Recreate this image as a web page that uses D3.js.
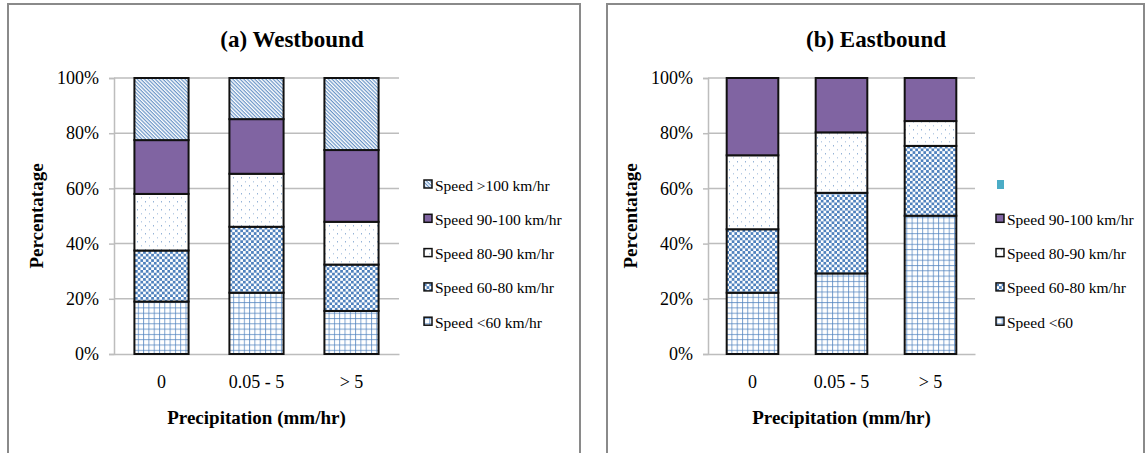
<!DOCTYPE html>
<html>
<head>
<meta charset="utf-8">
<script src="https://cdn.jsdelivr.net/npm/d3@7"></script>
<style>
  html, body { margin: 0; padding: 0; background: #fff; }
  svg { display: block; }
  text { font-family: "Liberation Serif", "Times New Roman", serif; fill: #000; }
</style>
</head>
<body>
<svg id="chart" width="1146" height="453"></svg>
<script>
// Precipitation classes on the x axis
const categories = ["0", "0.05 - 5", "> 5"];
const yTicks = [0, 20, 40, 60, 80, 100];

// Westbound: share of vehicles per speed class (%), bottom to top
const westNames = ["Speed <60 km/hr", "Speed 60-80 km/hr", "Speed 80-90 km/hr", "Speed 90-100 km/hr", "Speed >100 km/hr"];
const westLt60   = [19.0, 22.2, 15.6];
const west60_80  = [18.5, 23.9, 16.8];
const west80_90  = [20.5, 19.2, 15.5];
const west90_100 = [19.5, 19.8, 26.0];
const westGt100  = [22.5, 14.9, 26.1];

// Eastbound: share of vehicles per speed class (%), bottom to top
const eastNames = ["Speed <60", "Speed 60-80 km/hr", "Speed 80-90 km/hr", "Speed 90-100 km/hr", ""];
const eastLt60   = [22.2, 29.2, 50.1];
const east60_80  = [23.0, 29.2, 25.3];
const east80_90  = [26.8, 21.9, 9.0];
const east90_100 = [28.0, 19.7, 15.6];
const eastGt100  = [0, 0, 0];

const svg = d3.select("#chart");
const defs = svg.append("defs");
const blue = "#4F81BD";

// Fill patterns for the speed classes
function addPatterns(prefix) {
  // grid
  let p = defs.append("pattern").attr("id", prefix + "grid").attr("patternUnits", "userSpaceOnUse")
    .attr("width", 5.3).attr("height", 5.3);
  p.append("rect").attr("width", 5.3).attr("height", 5.3).attr("fill", "#fff");
  p.append("line").attr("x1", 0.5).attr("x2", 0.5).attr("y1", 0).attr("y2", 5.3).attr("stroke", blue).attr("stroke-width", 1).attr("stroke-opacity", 0.75);
  p.append("line").attr("y1", 0.5).attr("y2", 0.5).attr("x1", 0).attr("x2", 5.3).attr("stroke", blue).attr("stroke-width", 1).attr("stroke-opacity", 0.75);
  // checkerboard
  p = defs.append("pattern").attr("id", prefix + "check").attr("patternUnits", "userSpaceOnUse")
    .attr("width", 5.4).attr("height", 5.4);
  p.append("rect").attr("width", 5.4).attr("height", 5.4).attr("fill", "#fff");
  p.append("rect").attr("width", 2.7).attr("height", 2.7).attr("fill", blue);
  p.append("rect").attr("x", 2.7).attr("y", 2.7).attr("width", 2.7).attr("height", 2.7).attr("fill", blue);
  // sparse dots
  p = defs.append("pattern").attr("id", prefix + "dots").attr("patternUnits", "userSpaceOnUse")
    .attr("width", 8).attr("height", 8);
  p.append("rect").attr("width", 8).attr("height", 8).attr("fill", "#fff");
  p.append("rect").attr("x", 1).attr("y", 1).attr("width", 1).attr("height", 1.5).attr("fill", blue).attr("fill-opacity", 0.6);
  p.append("rect").attr("x", 5).attr("y", 5).attr("width", 1).attr("height", 1.5).attr("fill", blue).attr("fill-opacity", 0.4);
  // diagonal stripes, running down to the right
  p = defs.append("pattern").attr("id", prefix + "diag").attr("patternUnits", "userSpaceOnUse")
    .attr("width", 2.6).attr("height", 2.6).attr("patternTransform", "rotate(45)");
  p.append("rect").attr("width", 2.6).attr("height", 2.6).attr("fill", "#fff");
  p.append("rect").attr("width", 2.6).attr("height", 1.2).attr("fill", blue).attr("fill-opacity", 0.85);
}
addPatterns("p");
const fills = ["url(#pgrid)", "url(#pcheck)", "url(#pdots)", "#8064A2", "url(#pdiag)"];

function drawPanel(cfg) {
  const g = svg.append("g");
  // panel frame
  g.append("path")
    .attr("d", `M${cfg.frame[0]},460 V${cfg.frame[1]} H${cfg.frame[2]} V460`)
    .attr("fill", "none").attr("stroke", "#8a8a8a").attr("stroke-width", 2);

  const x = d3.scaleBand().domain(categories).range([cfg.x0, cfg.x1]).paddingInner(cfg.pad).paddingOuter(cfg.pad / 2);
  const y = d3.scaleLinear().domain([0, 100]).range([354, 78]);

  // gridlines
  g.append("g").selectAll("line").data(yTicks.filter(t => t > 0)).join("line")
    .attr("x1", cfg.x0).attr("x2", cfg.x1)
    .attr("y1", d => y(d)).attr("y2", d => y(d))
    .attr("stroke", "#bdbdbd").attr("stroke-width", 1.5);

  // y axis
  const ya = g.append("g").attr("transform", `translate(${cfg.x0},0)`)
    .call(d3.axisLeft(y).tickValues(yTicks).tickFormat(d => d + "%").tickSize(5).tickPadding(10));
  ya.select(".domain").attr("stroke", "#bdbdbd").attr("stroke-width", 1.5);
  ya.selectAll(".tick line").attr("stroke", "#bdbdbd").attr("stroke-width", 1.5);
  ya.selectAll(".tick text").attr("font-size", 18).attr("font-family", "Liberation Serif");

  // x axis
  const xa = g.append("g").attr("transform", "translate(0,354)")
    .call(d3.axisBottom(x).tickSize(0).tickPadding(21).tickSizeOuter(0));
  xa.select(".domain").attr("stroke", "#bdbdbd").attr("stroke-width", 1.5);
  xa.selectAll(".tick text").attr("font-size", 18).attr("font-family", "Liberation Serif");

  // stacked bars
  const rows = categories.map((c, i) => {
    const r = { cat: c };
    cfg.series.forEach((s, k) => { r["s" + k] = s[i]; });
    return r;
  });
  const stack = d3.stack().keys(cfg.series.map((s, k) => "s" + k))(rows);
  stack.forEach((layer, k) => {
    g.append("g").selectAll("rect").data(layer.filter(d => d[1] - d[0] > 0)).join("rect")
      .attr("x", d => x(d.data.cat))
      .attr("width", x.bandwidth())
      .attr("y", d => y(d[1]))
      .attr("height", d => y(d[0]) - y(d[1]))
      .attr("fill", fills[k])
      .attr("stroke", "#111").attr("stroke-width", 2);
  });

  // titles
  g.append("text").attr("x", cfg.titleX).attr("y", 47).attr("text-anchor", "middle")
    .attr("font-size", 23).attr("font-weight", "bold").text(cfg.title);
  g.append("text").attr("transform", `translate(${cfg.yLabelX},216) rotate(-90)`).attr("text-anchor", "middle")
    .attr("font-size", 19).attr("font-weight", "bold").text("Percentatage");
  g.append("text").attr("x", (cfg.x0 + cfg.x1) / 2).attr("y", 424).attr("text-anchor", "middle")
    .attr("font-size", 19).attr("font-weight", "bold").text("Precipitation (mm/hr)");

  // legend, top entry = top of stack
  const order = d3.range(cfg.names.length).reverse();
  const lg = g.append("g");
  order.forEach((k, j) => {
    const ly = 185 + j * 34.3;
    if (cfg.names[k] === "") {
      lg.append("rect").attr("x", cfg.legX + 1).attr("y", ly - 5).attr("width", 7).attr("height", 9)
        .attr("fill", "#4BACC6");
    } else {
      lg.append("rect").attr("x", cfg.legX).attr("y", ly - 5).attr("width", 8).attr("height", 8)
        .attr("fill", fills[k]).attr("stroke", "#111").attr("stroke-width", 1.5);
      lg.append("text").attr("x", cfg.legX + 11).attr("y", ly + 5.5)
        .attr("font-size", 15.5).text(cfg.names[k]);
    }
  });
}

drawPanel({
  frame: [8, 4, 580], x0: 114, x1: 399, pad: 0.43,
  title: "(a) Westbound", titleX: 292, yLabelX: 43, legX: 424,
  names: westNames,
  series: [westLt60, west60_80, west80_90, west90_100, westGt100]
});
drawPanel({
  frame: [607, 4, 1144], x0: 708, x1: 975, pad: 0.42,
  title: "(b) Eastbound", titleX: 876, yLabelX: 637, legX: 996,
  names: eastNames,
  series: [eastLt60, east60_80, east80_90, east90_100, eastGt100]
});
</script>
</body>
</html>
